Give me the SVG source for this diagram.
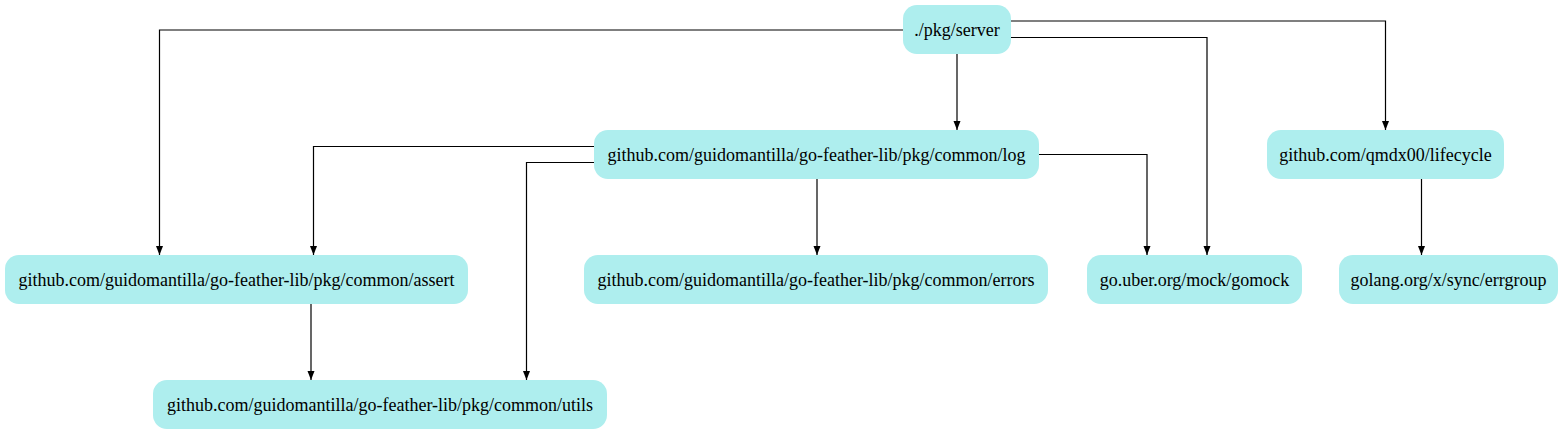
<svg xmlns="http://www.w3.org/2000/svg" width="1563" height="435" viewBox="0 0 1563 435">
<style>
.node rect{fill:#aeeeee;stroke:none}
.node text{font-family:"Liberation Serif","Times New Roman",serif;font-size:18px;fill:#000;text-anchor:middle}
.edges path{fill:none;stroke:#000;stroke-width:1.2}
</style>
<defs>
<marker id="arr" markerWidth="10" markerHeight="8" refX="9" refY="3.5" orient="auto" markerUnits="userSpaceOnUse">
<path d="M0,0 L9,3.5 L0,7 Z" fill="#000"/>
</marker>
</defs>
<rect width="1563" height="435" fill="#fff"/>
<g class="edges">
<path d="M903,30 H159.5 V255" marker-end="url(#arr)"/>
<path d="M957,54 V130" marker-end="url(#arr)"/>
<path d="M1011,37.5 H1207 V255" marker-end="url(#arr)"/>
<path d="M1011,21 H1385.5 V130" marker-end="url(#arr)"/>
<path d="M594,146.5 H313.5 V255" marker-end="url(#arr)"/>
<path d="M594,162.5 H526.5 V380" marker-end="url(#arr)"/>
<path d="M817,179 V255" marker-end="url(#arr)"/>
<path d="M1039,154.5 H1147 V255" marker-end="url(#arr)"/>
<path d="M311,304 V380" marker-end="url(#arr)"/>
<path d="M1421.5,179 V255" marker-end="url(#arr)"/>
</g>
<g id="server" class="node"><rect x="903" y="5" width="108" height="49" rx="14"/><text x="957" y="36">./pkg/server</text></g>
<g id="log" class="node"><rect x="594" y="130" width="445" height="49" rx="14"/><text x="816.5" y="161">github.com/guidomantilla/go-feather-lib/pkg/common/log</text></g>
<g id="lifecycle" class="node"><rect x="1267" y="130" width="237" height="49" rx="14"/><text x="1385.5" y="161">github.com/qmdx00/lifecycle</text></g>
<g id="assert" class="node"><rect x="5" y="255" width="463" height="49" rx="14"/><text x="236.5" y="286">github.com/guidomantilla/go-feather-lib/pkg/common/assert</text></g>
<g id="errors" class="node"><rect x="584" y="255" width="464" height="49" rx="14"/><text x="816" y="286">github.com/guidomantilla/go-feather-lib/pkg/common/errors</text></g>
<g id="gomock" class="node"><rect x="1087" y="255" width="215" height="49" rx="14"/><text x="1194.5" y="286">go.uber.org/mock/gomock</text></g>
<g id="errgroup" class="node"><rect x="1339" y="255" width="219" height="49" rx="14"/><text x="1448.5" y="286">golang.org/x/sync/errgroup</text></g>
<g id="utils" class="node"><rect x="153" y="380" width="454" height="49" rx="14"/><text x="380" y="411">github.com/guidomantilla/go-feather-lib/pkg/common/utils</text></g>
</svg>
